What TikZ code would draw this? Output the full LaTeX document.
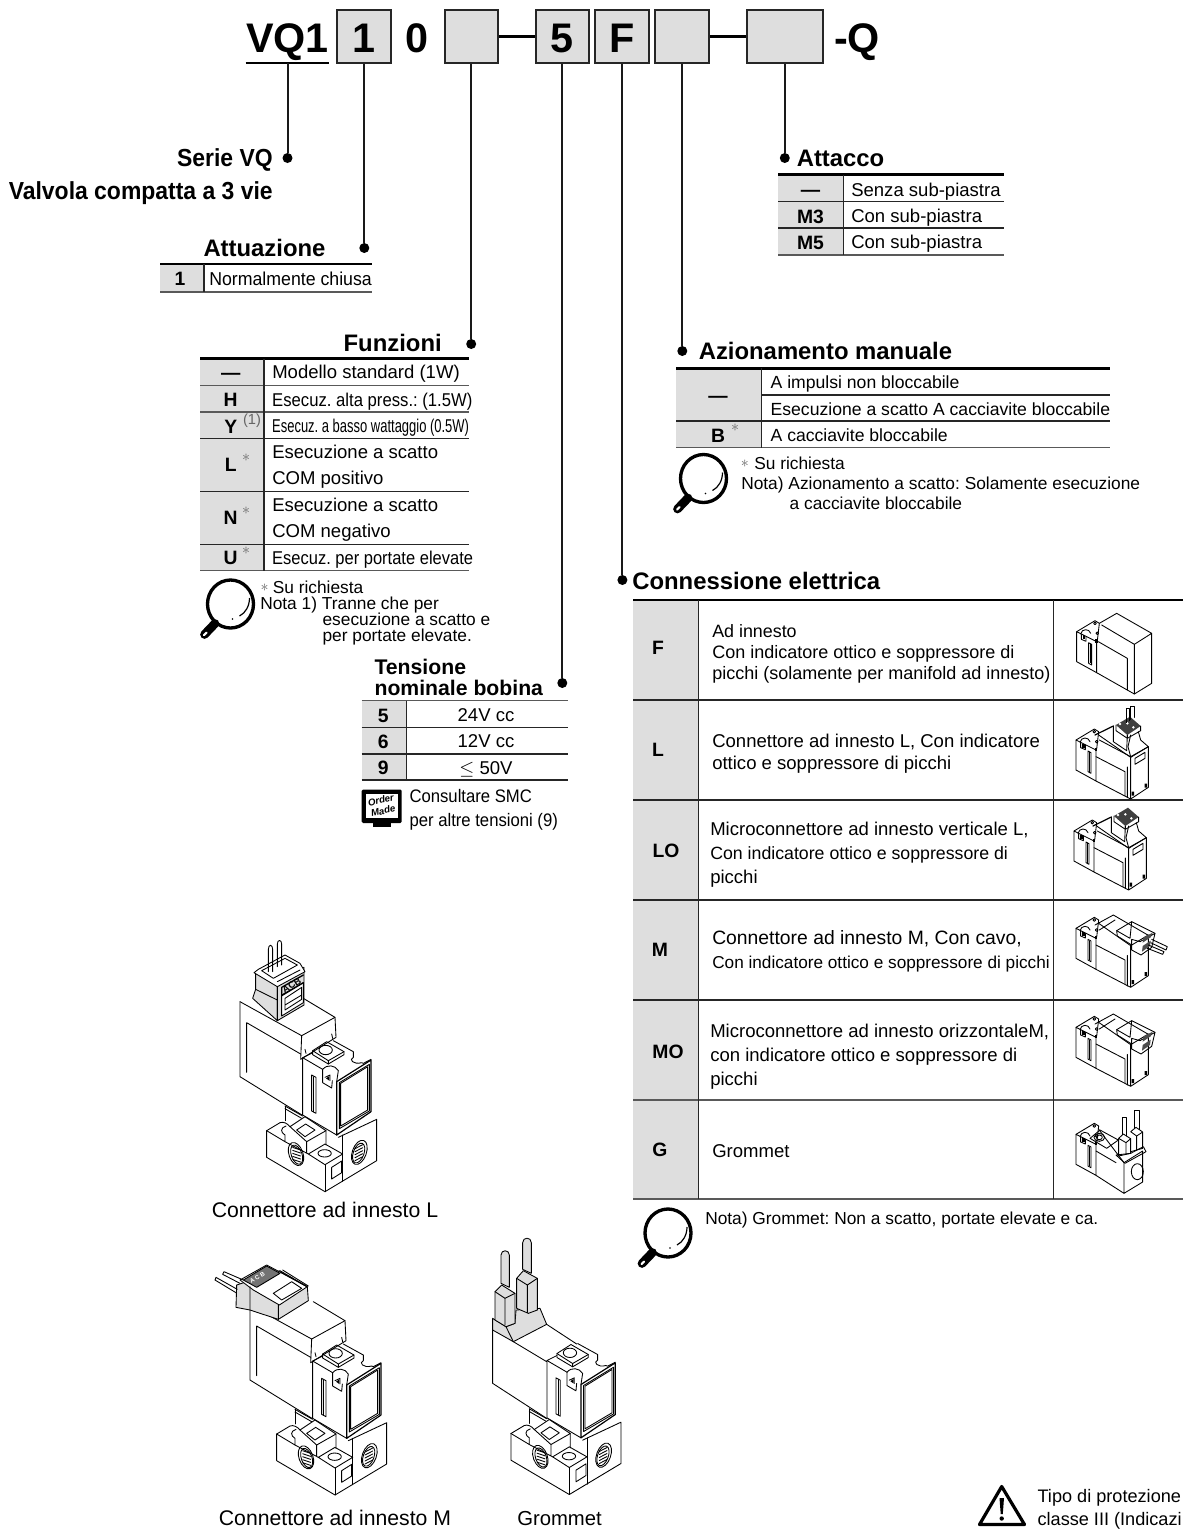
\documentclass[tikz,border=0pt]{standalone}
\usepackage{fontspec}
\setmainfont{Liberation Sans}
\usetikzlibrary{positioning}
\definecolor{cellgray}{rgb}{0.87, 0.87, 0.87}
\definecolor{rulegray}{rgb}{0.35, 0.35, 0.35}
\tikzset{
  codebox/.style={draw=black!85, line width=1.5pt, fill=cellgray, inner sep=0pt, minimum height=40pt, text height=24pt, text depth=0pt, font=\bfseries\fontsize{31}{33}\selectfont},
  codetext/.style={inner sep=0pt, text height=24pt, text depth=0pt, font=\bfseries\fontsize{31}{33}\selectfont},
  leader/.style={line width=1.5pt, black!90},
  dashline/.style={line width=2.2pt},
  dotmark/.style={circle, fill=black, inner sep=0pt, minimum size=7.5pt},
  headtext/.style={inner sep=0pt, text height=12.5pt, text depth=0pt, font=\bfseries\fontsize{17.9}{20}\selectfont},
  rowtext/.style={anchor=west, inner sep=0pt, text height=9.3pt, text depth=0pt, font=\fontsize{13}{15}\selectfont},
  rowwide/.style={rowtext, font=\fontsize{13.9}{15}\selectfont},
  captext/.style={rowtext, anchor=center, font=\fontsize{15.9}{18}\selectfont},
  keytext/.style={inner sep=0pt, text height=10pt, text depth=0pt, font=\bfseries\fontsize{14.5}{16}\selectfont},
  startext/.style={inner sep=0pt, font=\fontsize{13}{13}\selectfont, text=black!60},
  toprule/.style={line width=1.9pt, black},
  midrule/.style={line width=.9pt, black!85},
  endrule/.style={line width=1.1pt, rulegray},
  sepline/.style={line width=.9pt, black!85},
  sketch/.style={line width=.65pt, line join=round, line cap=round},
  pics/lens/.style={code={
    \draw[line width=2.5pt] (0,0) ellipse [x radius=23, y radius=24];
    \draw[line width=6.5pt, line cap=round] (-15.5,19.5) -- (-26,30.5);
    \draw[line width=1.6pt, white, line cap=round] (-24,28.5) -- (-26.5,31);
    \draw[line width=.9pt] (19,-6) .. controls (19,2) and (15,9) .. (9,12);
    \fill (2,15) circle (.9);
  }}
}
% solenoid lower part, in drawing units
\newcommand{\valvepilot}{%
  \draw[sketch] (230,612) -- (230,692) -- (405,795) -- (560,702) -- (560,578) -- (445,632);
  \draw[sketch] (230,612) -- (270,588) .. controls (280,584) and (292,590) .. (300,600);
  \draw[sketch] (230,612) -- (285,645) -- (285,625) .. controls (272,618) and (270,603) .. (288,598);
  \draw[sketch] (285,538) -- (285,582);
  \draw[sketch] (285,538) -- (338,568) (285,546) -- (335,575);
  \draw[sketch] (300,600) -- (345,570) -- (408,612) -- (350,645) -- cycle;
  \draw[sketch] (320,610) -- (347,592) -- (375,610) -- (345,630) -- cycle;
  \draw[sketch] (408,612) -- (408,655) (350,645) -- (350,678) (285,645) -- (355,682);
  \draw[sketch] (355,682) -- (405,652) -- (458,682) -- (405,714) -- cycle;
  \draw[sketch] (404,680) ellipse [x radius=20, y radius=11];
  \draw[sketch] (405,714) -- (405,795) (458,625) -- (458,764);
  \draw[sketch] (425,722) -- (455,703) -- (455,738) -- (425,757) -- cycle;
  \draw[sketch] (318,682) ellipse [x radius=21, y radius=36, rotate=20];
  \draw[sketch] (320,684) ellipse [x radius=16, y radius=30, rotate=20];
  \draw[sketch] (508,677) ellipse [x radius=21, y radius=38, rotate=-20];
  \draw[sketch] (506,679) ellipse [x radius=16, y radius=31, rotate=-20];
  \foreach \dy in {-18,-9,0,9,18} {
    \draw[sketch] (308,680+\dy) -- (332,688+\dy);
    \draw[sketch] (495,684+\dy) -- (518,672+\dy);
  }
  \draw[sketch] (368,372) -- (410,345) -- (462,375) -- (462,384) -- (415,412) -- (368,384) -- cycle;
  \draw[sketch] (368,372) -- (415,402) -- (462,375) (415,402) -- (415,412);
  \draw[sketch] (407,370) ellipse [x radius=20, y radius=14];
  \draw[sketch] (338,393) -- (338,565) -- (440,625);
  \draw[sketch] (338,393) -- (368,378) (338,393) -- (398,428);
  \draw[sketch] (430,342) -- (490,375) -- (490,392) .. controls (475,398) and (490,415) .. (515,408) -- (520,410) -- (543,398);
  \draw[sketch, line width=.9pt] (440,465) -- (543,400) -- (543,555) -- (440,625) -- cycle;
  \draw[sketch] (452,470) -- (533,420) -- (533,550) -- (452,598) -- cycle;
  \draw[sketch] (448,468) -- (538,413) -- (538,553) -- (448,606) -- cycle;
  \draw[sketch] (398,428) .. controls (412,412) and (435,415) .. (445,432) -- (440,465);
  \draw[sketch] (398,428) -- (398,468) -- (425,484) -- (427,462) (405,452) -- (420,445) -- (420,462);
  \fill (408,455) -- (418,448) -- (418,462) -- cycle;
  \draw[sketch] (365,445) -- (378,452) -- (378,560) -- (365,553) -- cycle;
  \draw[sketch] (371,450) -- (371,556);
}
\newcommand{\valvecoil}{%
  \draw[sketch] (150,225) -- (150,450) -- (336,565);
  \draw[sketch] (170,288) -- (170,437) (170,288) -- (332,382);
  \draw[sketch] (150,225) -- (235,272) -- (335,327) -- (435,272) -- (340,215);
  \draw[sketch] (335,327) -- (332,398) -- (438,332) -- (435,272);
  \draw[sketch] (345,368) -- (348,380) (425,322) -- (428,335);
}
% small pictures in the table
\newcommand{\thumbpilot}{%
  \draw[sketch] (110,95) -- (110,185) -- (170,218) -- (170,125) -- (110,95);
  \draw[sketch] (110,95) -- (165,62) -- (178,70) -- (172,122);
  \draw[sketch] (122,102) .. controls (125,85) and (148,85) .. (152,100);
  \draw[sketch] (124,103) -- (124,118) -- (138,124) -- (138,110);
  \fill (128,106) rectangle (136,118);
  \fill (166,118) rectangle (174,128);
  \draw[sketch] (165,70) circle (4) (172,100) circle (4);
  \draw[sketch] (146,128) -- (155,133) -- (155,195) -- (146,190) -- cycle;
  \fill (149,132) rectangle (152,190);
}
\newcommand{\thumbblock}{%
  \draw[sketch] (170,218) -- (274,272) -- (327,237) -- (327,115) -- (274,147) -- (274,272);
  \draw[sketch] (170,145) -- (257,190) -- (257,262);
  \draw[sketch] (178,80) -- (274,147) (264,176) -- (264,268);
  \fill (277,250) rectangle (284,262) (316,226) rectangle (323,238);
}
\newcommand{\thumbplug}{%
  \draw[sketch, line width=.9pt] (165,405) -- (220,378);
  \draw[sketch] (220,378) -- (220,425) -- (260,452) -- (262,405) (178,420) -- (272,470);
  \fill[black!75] (228,375) -- (270,350) -- (302,378) -- (262,405) -- cycle;
  \fill[white] (240,372) circle (4) (262,370) circle (4) (280,382) circle (4);
  \draw[sketch] (228,375) -- (228,392) -- (262,415) -- (262,405) (302,378) -- (302,392) -- (262,415);
  \draw[sketch] (272,405) -- (264,440) -- (272,470) (295,395) -- (302,420) -- (325,440) -- (272,470);
  \draw[sketch] (285,475) -- (315,457) -- (315,475) -- (285,493) -- cycle;
}
\newcommand{\thumbside}{%
  \draw[sketch] (165,75) -- (220,45) -- (332,110) (178,90) -- (225,60);
  \draw[sketch] (230,92) -- (232,108) -- (275,135) (230,92) -- (275,65) -- (345,100);
  \draw[sketch] (230,92) -- (270,115) -- (275,65);
  \draw[sketch] (275,118) -- (275,150) -- (303,165) -- (335,142) -- (345,100) -- (300,125) -- (275,118);
  \fill[black!70] (310,112) -- (338,98) -- (332,112) -- (308,128) -- cycle;
  \fill[black!70] (308,138) -- (332,122) -- (330,138) -- (306,155) -- cycle;
}
\begin{document}
\frenchspacing
\begin{tikzpicture}[x=.75pt, y=-.75pt]
        \useasboundingbox (0,0) rectangle (1183,1529);
        % type code
        \node[codetext, minimum width=62.25pt, minimum height=39.75pt] (vqone) at (287.5,36) {VQ1};
        \draw[line width=1.5pt] (vqone.south west) -- (vqone.south east);
        \node[codebox, minimum width=40.3pt] (actbox) at (364.3,36.5) {1};
        \node[codetext] (zero) at (417,36.5) {0};
        \node[codebox, minimum width=40pt] (funbox) at (471.2,36.5) {};
        \node[codebox, minimum width=40pt] (coilbox) at (562.3,36.5) {5};
        \node[codebox, minimum width=40.5pt] (elecbox) at (622.4,36.5) {F};
        \node[codebox, minimum width=40.3pt] (manbox) at (682.3,36.5) {};
        \node[codebox, minimum width=57.4pt] (portbox) at (784.8,36.5) {};
        \node[codetext] (qtail) at (857,36.5) {-Q};
        \draw[dashline] (funbox) -- (coilbox);
        \draw[dashline] (manbox) -- (portbox);
        % dots and leaders
        \node[dotmark] (vqdot) at (287.5,158) {};
        \node[dotmark] (actdot) at (364.3,248) {};
        \node[dotmark] (fundot) at (471.2,344) {};
        \node[dotmark] (coildot) at (562.3,683) {};
        \node[dotmark] (elecdot) at (622.4,580) {};
        \node[dotmark] (mandot) at (682.3,351) {};
        \node[dotmark] (portdot) at (784.8,158) {};
        \draw[leader] (vqone.south) -- (vqdot);
        \draw[leader] (actbox) -- (actdot);
        \draw[leader] (funbox) -- (fundot);
        \draw[leader] (coilbox) -- (coildot);
        \draw[leader] (elecbox) -- (elecdot);
        \draw[leader] (manbox) -- (mandot);
        \draw[leader] (portbox) -- (portdot);
        % serie
        \node[headtext, anchor=east, xscale=.93, font=\bfseries\fontsize{18.5}{20}\selectfont] (serie) at (273,158) {Serie VQ};
        \node[headtext, anchor=east, xscale=.93, font=\bfseries\fontsize{18.5}{20}\selectfont] (valvola) at (273,191) {Valvola compatta a 3 vie};
        % attuazione
        \fill[cellgray] (160,264) rectangle (204,292);
        \draw[toprule] (160,264) -- (372,264);
        \draw[endrule] (160,292) -- (372,292);
        \draw[sepline] (204,264) -- (204,292);
        \node[headtext] (acthead) at (264.5,248) {Attuazione};
        \node[keytext] (actkey) at (180,279) {1};
        \node[rowtext, xscale=.95, font=\fontsize{14}{15}\selectfont] (actrow) at (209,279) {Normalmente chiusa};
        % attacco
        \fill[cellgray] (778,174.5) rectangle (843.5,255);
        \draw[toprule] (778,174.5) -- (1004,174.5);
        \draw[midrule] (778,201.5) -- (1004,201.5) (778,228) -- (1004,228);
        \draw[endrule] (778,255) -- (1004,255);
        \draw[sepline] (843.5,174.5) -- (843.5,255);
        \node[headtext, anchor=west] (porthead) at (796.5,158) {Attacco};
        \foreach \n/\yy/\lab/\txt in {1/190/---/Senza sub-piastra, 2/216.5/M3/Con sub-piastra, 3/242.5/M5/Con sub-piastra} {
          \node[keytext] (portkey\n) at (810.5,\yy) {\lab};
          \node[rowwide] (portrow\n) at (851,\yy) {\txt};
        }
        % funzioni
        \fill[cellgray] (200,358.7) rectangle (264,570.7);
        \draw[toprule] (200,358.7) -- (469.3,358.7);
        \draw[endrule] (200,385.7) -- (469.3,385.7) (200,412) -- (469.3,412) (200,570.7) -- (469.3,570.7);
        \draw[midrule] (200,438.3) -- (469.3,438.3) (200,491.3) -- (469.3,491.3) (200,544.3) -- (469.3,544.3);
        \draw[sepline] (264,358.7) -- (264,570.7);
        \node[headtext, anchor=east] (funhead) at (442,343) {Funzioni};
        \foreach \n/\yy/\lab in {1/372.7/---, 2/400/H, 3/426.5/Y, 4/465/L, 5/518/N, 6/558/U} {
          \node[keytext] (funkey\n) at (230.7,\yy) {\lab};
        }
        \node[startext, font=\fontsize{11}{11}\selectfont] (funsup) at (252,421) {(1)};
        \node[startext] (funstarl) at (246,458) {$*$};
        \node[startext] (funstarn) at (246,511) {$*$};
        \node[startext] (funstaru) at (246,551) {$*$};
        \node[rowwide] (funrow1) at (272,372.7) {Modello standard (1W)};
        \node[rowwide, xscale=.9] (funrow2) at (272,400) {Esecuz. alta press.: (1.5W)};
        \node[rowwide, xscale=.7] (funrow3) at (272,426) {Esecuz. a basso wattaggio (0.5W)};
        \node[rowwide] (funrow4) at (272,452.7) {Esecuzione a scatto};
        \node[rowwide] (funrow5) at (272,478.5) {COM positivo};
        \node[rowwide] (funrow6) at (272,505) {Esecuzione a scatto};
        \node[rowwide] (funrow7) at (272,531.7) {COM negativo};
        \node[rowwide, xscale=.89] (funrow8) at (272,558) {Esecuz. per portate elevate};
        \pic at (230.5,604) {lens};
        \node[startext] (funnotestar) at (264.5,587.5) {$*$};
        \node[rowtext] (funnote1) at (272.5,587) {Su richiesta};
        \node[rowtext] (funnote2) at (260,603.3) {Nota 1) Tranne che per};
        \node[rowtext] (funnote3) at (322.3,619.3) {esecuzione a scatto e};
        \node[rowtext] (funnote4) at (322.3,635.3) {per portate elevate.};
        % tensione
        \fill[cellgray] (361.7,700.7) rectangle (406.7,780);
        \draw[endrule] (361.7,700.7) -- (568.3,700.7);
        \draw[midrule] (361.7,727.3) -- (568.3,727.3) (361.7,754) -- (568.3,754) (361.7,780) -- (568.3,780);
        \draw[sepline] (406.7,700.7) -- (406.7,780);
        \node[headtext, anchor=west, font=\bfseries\fontsize{15.9}{18}\selectfont] (coilhead1) at (374.3,666) {Tensione};
        \node[headtext, anchor=west, font=\bfseries\fontsize{15.9}{18}\selectfont] (coilhead2) at (374.3,687.5) {nominale bobina};
        \foreach \n/\yy/\lab/\txt in {1/715.7/5/24V cc, 2/741.7/6/12V cc, 3/768/9/{$\leq$ 50V}} {
          \node[keytext] (coilkey\n) at (383.3,\yy) {\lab};
          \node[rowwide, anchor=center] (coilrow\n) at (486,\yy) {\txt};
        }
        \fill[rounded corners=1pt] (361.7,789.5) rectangle (401.7,823);
        \fill (373,822) rectangle (391,827);
        \fill[white] (366,793.5) rectangle (398,818);
        \node[inner sep=0pt, rotate=12, align=center, font=\bfseries\itshape\fontsize{7.2}{8.2}\selectfont] (ordermade) at (382,805.5) {Order\\Made};
        \node[rowtext, xscale=.92, font=\fontsize{13.6}{15}\selectfont] (coilnote1) at (409.3,796.5) {Consultare SMC};
        \node[rowtext, xscale=.92, font=\fontsize{13.6}{15}\selectfont] (coilnote2) at (409.3,820.5) {per altre tensioni (9)};
        % azionamento
        \fill[cellgray] (676,368.3) rectangle (761.2,447.7);
        \draw[toprule] (676,368.3) -- (1109.7,368.3);
        \draw[midrule] (761.2,395) -- (1109.7,395) (676,421) -- (1109.7,421);
        \draw[endrule] (676,447.7) -- (1109.7,447.7);
        \draw[sepline] (761.2,368.3) -- (761.2,447.7);
        \node[headtext, anchor=west] (manhead) at (698.5,351) {Azionamento manuale};
        \node[keytext] (mankey1) at (718,396) {---};
        \node[keytext] (mankey2) at (718,435.5) {B};
        \node[startext] (manstar) at (735,428) {$*$};
        \node[rowtext, font=\fontsize{13.2}{15}\selectfont] (manrow1) at (770.4,382.7) {A impulsi non bloccabile};
        \node[rowtext, font=\fontsize{13.2}{15}\selectfont] (manrow2) at (770.4,409) {Esecuzione a scatto A cacciavite bloccabile};
        \node[rowtext, font=\fontsize{13.2}{15}\selectfont] (manrow3) at (770.4,435) {A cacciavite bloccabile};
        \pic at (703.5,478.5) {lens};
        \node[startext] (mannotestar) at (744.8,464) {$*$};
        \node[rowtext] (mannote1) at (754,463.3) {Su richiesta};
        \node[rowtext] (mannote2) at (741,483.3) {Nota) Azionamento a scatto: Solamente esecuzione};
        \node[rowtext] (mannote3) at (789.4,503.3) {a cacciavite bloccabile};
        % connessione
        \fill[cellgray] (633,600) rectangle (698.5,1199);
        \draw[toprule] (633,600) -- (1183,600);
        \draw[midrule] (633,700) -- (1183,700) (633,800) -- (1183,800) (633,900) -- (1183,900) (633,1000) -- (1183,1000);
        \draw[endrule] (633,1100) -- (1183,1100) (633,1199) -- (1183,1199);
        \draw[sepline] (698.5,600) -- (698.5,1199) (1053.5,600) -- (1053.5,1199);
        \node[headtext, anchor=west] (elechead) at (632,581.5) {Connessione elettrica};
        \foreach \n/\xx/\yy/\lab in {1/658/648/F, 2/658/750/L, 3/666/851/LO, 4/660/950/M, 5/668/1052/MO, 6/660/1150/G} {
          \node[keytext] (eleckey\n) at (\xx,\yy) {\lab};
        }
        \node[rowtext, font=\fontsize{13.4}{15}\selectfont] (elecrow1) at (712,631) {Ad innesto};
        \node[rowtext, font=\fontsize{13.5}{15}\selectfont] (elecrow2) at (712,652) {Con indicatore ottico e soppressore di};
        \node[rowtext, font=\fontsize{13.5}{15}\selectfont] (elecrow3) at (712,673.5) {picchi (solamente per manifold ad innesto)};
        \node[rowwide] (elecrow4) at (712,741) {Connettore ad innesto L, Con indicatore};
        \node[rowwide] (elecrow5) at (712,763) {ottico e soppressore di picchi};
        \node[rowwide] (elecrow6) at (710,829) {Microconnettore ad innesto verticale L,};
        \node[rowtext, font=\fontsize{13.3}{15}\selectfont] (elecrow7) at (710,853) {Con indicatore ottico e soppressore di};
        \node[rowwide] (elecrow8) at (710,877) {picchi};
        \node[rowtext, font=\fontsize{14.5}{15}\selectfont] (elecrow9) at (712,938) {Connettore ad innesto M, Con cavo,};
        \node[rowtext, font=\fontsize{12.9}{15}\selectfont] (elecrow10) at (712,962) {Con indicatore ottico e soppressore di picchi};
        \node[rowwide] (elecrow11) at (710,1031) {Microconnettore ad innesto orizzontaleM,};
        \node[rowwide] (elecrow12) at (710,1055) {con indicatore ottico e soppressore di};
        \node[rowwide] (elecrow13) at (710,1079) {picchi};
        \node[rowwide] (elecrow14) at (712,1151) {Grommet};
        \pic at (668,1233) {lens};
        \node[rowtext] (elecnote) at (705,1218) {Nota) Grommet: Non a scatto, portate elevate e ca.};
        % thumbnails, first three rows
        \begin{scope}[shift={(1040,600)}, x=.25pt, y=-.25pt]
          \thumbpilot
          \draw[sketch] (178,70) -- (230,40) -- (335,100) -- (283,133) -- (283,282) -- (335,250) -- (335,100);
          \draw[sketch] (185,75) -- (283,133) (170,218) -- (283,282);
          \draw[sketch] (175,125) -- (262,175) -- (262,270);
          \begin{scope}[shift={(-2,325)}]
            \thumbpilot
            \thumbblock
          \end{scope}
          \thumbplug
          \draw[sketch] (258,368) -- (258,325) -- (268,325) -- (268,362);
          \draw[sketch] (272,358) -- (272,318) -- (282,318) -- (282,352);
          \begin{scope}[shift={(-6,273)}]
            \begin{scope}[shift={(-2,325)}]
              \thumbpilot
              \thumbblock
            \end{scope}
            \thumbplug
          \end{scope}
        \end{scope}
        % thumbnails, last three rows
        \begin{scope}[shift={(1040,900)}, x=.25pt, y=-.25pt]
          \begin{scope}[shift={(-2,-10)}]
            \thumbpilot
            \thumbblock
          \end{scope}
          \thumbside
          \draw[sketch] (335,118) -- (382,140) -- (378,150) -- (332,128);
          \draw[sketch] (325,135) -- (372,155) -- (368,163) -- (322,145);
          \begin{scope}[shift={(-2,287)}]
            \thumbpilot
            \thumbblock
          \end{scope}
          \begin{scope}[shift={(0,297)}]
            \thumbside
          \end{scope}
          \begin{scope}[shift={(-2,608)}]
            \thumbpilot
            \draw[sketch] (170,218) -- (254,272) -- (310,238) -- (310,145) -- (254,180) -- (254,272);
            \draw[sketch] (178,80) -- (254,180) (170,145) -- (230,180);
          \end{scope}
          \draw[sketch] (150,715) -- (180,690) -- (235,720) -- (200,745) -- cycle;
          \draw[sketch] (178,712) ellipse [x radius=16, y radius=12] (178,712) ellipse [x radius=9, y radius=7];
          \draw[sketch] (292,815) ellipse [x radius=18, y radius=24];
          \draw[sketch] (236,715) -- (250,702) -- (272,716) -- (272,760) -- (236,768) -- cycle (236,715) -- (258,728) -- (272,716) (258,728) -- (258,762);
          \draw[sketch] (248,704) -- (248,652) -- (260,652) -- (260,708);
          \draw[sketch] (272,695) -- (288,682) -- (308,696) -- (308,745) -- (272,755) (272,695) -- (290,708) -- (308,696) (290,708) -- (290,750);
          \draw[sketch] (284,684) -- (284,630) -- (297,630) -- (297,688);
          \draw[sketch] (228,765) -- (272,760) -- (310,740) -- (318,755) -- (255,790) -- cycle;
        \end{scope}
        % valve with connector L
        \begin{scope}[shift={(190,926.67)}, x=.25pt, y=-.25pt]
          \valvepilot
          \valvecoil
        \end{scope}
        \begin{scope}[shift={(190,930)}, x=.25pt, y=-.25pt]
          \draw[sketch, fill=cellgray] (197,130) -- (197,178) -- (188,205) -- (262,272) -- (262,155) -- cycle;
          \draw[sketch, fill=cellgray] (262,155) -- (342,112) -- (342,225) -- (262,272) -- cycle;
          \draw[sketch, fill=white] (275,195) -- (340,158) -- (340,218) -- (275,258) -- cycle;
          \draw[sketch] (285,205) -- (335,172) -- (335,208) -- (285,240) -- cycle (285,225) -- (335,195);
          \draw[sketch] (197,178) -- (262,210);
          \draw[sketch, fill=white] (205,118) -- (285,75) -- (330,100) -- (345,125) -- (262,170) -- (192,128) -- cycle;
          \draw[sketch] (215,122) -- (285,85) -- (322,105) -- (250,145) -- cycle (262,155) -- (330,120);
          \draw[sketch] (235,125) -- (235,58) .. controls (235,42) and (248,42) .. (248,58) -- (248,125);
          \draw[sketch] (262,110) -- (262,42) .. controls (262,28) and (275,28) .. (275,42) -- (275,105);
          \draw[sketch, line width=1pt] (275,172) -- (340,135) (275,197) -- (340,158) (275,172) -- (275,197);
          \node[inner sep=0pt, rotate=30, font=\bfseries\fontsize{7}{7}\selectfont] (acbmark) at (305,166) {ACB};
        \end{scope}
        \node[captext] (capl) at (325,1211) {Connettore ad innesto L};
        % valve with connector M
        \begin{scope}[shift={(200,1230)}, x=.25pt, y=-.25pt]
          \valvepilot
          \valvecoil
          \draw[sketch, fill=cellgray] (110,165) -- (108,232) -- (150,240) -- (235,268) -- (325,212) -- (322,170) -- (240,122) -- cycle;
          \draw[sketch, fill=white] (120,150) -- (200,105) -- (322,170) -- (238,225) -- (160,180) -- cycle;
          \draw[sketch] (150,170) -- (150,240) (235,225) -- (235,268) (220,190) -- (275,155) -- (305,175) -- (245,210) -- cycle;
          \draw[sketch] (240,125) -- (320,170) (248,120) -- (325,168);
          \draw[sketch, fill=black!55] (130,150) -- (200,108) -- (240,130) -- (170,172) -- cycle;
          \draw[sketch] (112,178) -- (48,142) -- (45,150) -- (108,188);
          \draw[sketch] (130,150) -- (72,125) -- (68,133) -- (120,160);
          \node[inner sep=0pt, rotate=30, text=white, font=\bfseries\fontsize{4.5}{5}\selectfont] (acmark) at (172,142) {A C B};
        \end{scope}
        \node[captext] (capm) at (335,1519) {Connettore ad innesto M};
        % valve with grommet
        \begin{scope}[shift={(434.3,1229.5)}, x=.25pt, y=-.25pt]
          \valvepilot
        \end{scope}
        \begin{scope}[shift={(200,1230)}, x=.25pt, y=-.25pt]
          \draw[sketch] (878,300) -- (878,460) -- (1040,565);
          \draw[sketch] (940,335) -- (1040,395) (1040,283) -- (1130,342);
          \draw[sketch, fill=cellgray] (878,265) -- (878,300) -- (940,335) -- (1040,283) -- (1020,235) -- (948,240) -- (945,280) -- (918,290) -- cycle;
          \draw[sketch] (918,290) -- (940,335);
          \draw[sketch, fill=cellgray] (885,185) -- (905,165) -- (945,190) -- (945,280) -- (918,290) -- (885,270) -- cycle;
          \draw[sketch] (885,185) -- (915,205) -- (945,190) (915,205) -- (915,285);
          \draw[sketch, fill=cellgray] (950,145) -- (970,122) -- (1012,145) -- (1012,240) -- (985,250) -- (950,235) -- cycle;
          \draw[sketch] (950,145) -- (982,165) -- (1012,145) (982,165) -- (982,248);
          \draw[sketch, fill=cellgray] (903,160) -- (903,75) .. controls (903,58) and (928,58) .. (928,75) -- (928,172) -- cycle;
          \draw[sketch, fill=cellgray] (968,118) -- (968,38) .. controls (968,20) and (994,20) .. (994,38) -- (994,130) -- cycle;
        \end{scope}
        \node[captext, font=\fontsize{15.2}{18}\selectfont] (capg) at (559.5,1519) {Grommet};
        % warning
        \draw[line width=2.4pt, line join=round] (1001.7,1486.5) -- (1024.5,1524.5) -- (979.5,1524.5) -- cycle;
        \fill (999.5,1498) -- (1004,1498) -- (1002.8,1514) -- (1000.7,1514) -- cycle;
        \fill (1001.7,1518.5) circle (2.2);
        \node[rowtext, font=\fontsize{13.6}{15}\selectfont] (warn1) at (1037.3,1496.5) {Tipo di protezione};
        \node[rowtext, font=\fontsize{13.6}{15}\selectfont] (warn2) at (1037.3,1519) {classe III (Indicazi};
\end{tikzpicture}
\end{document}
